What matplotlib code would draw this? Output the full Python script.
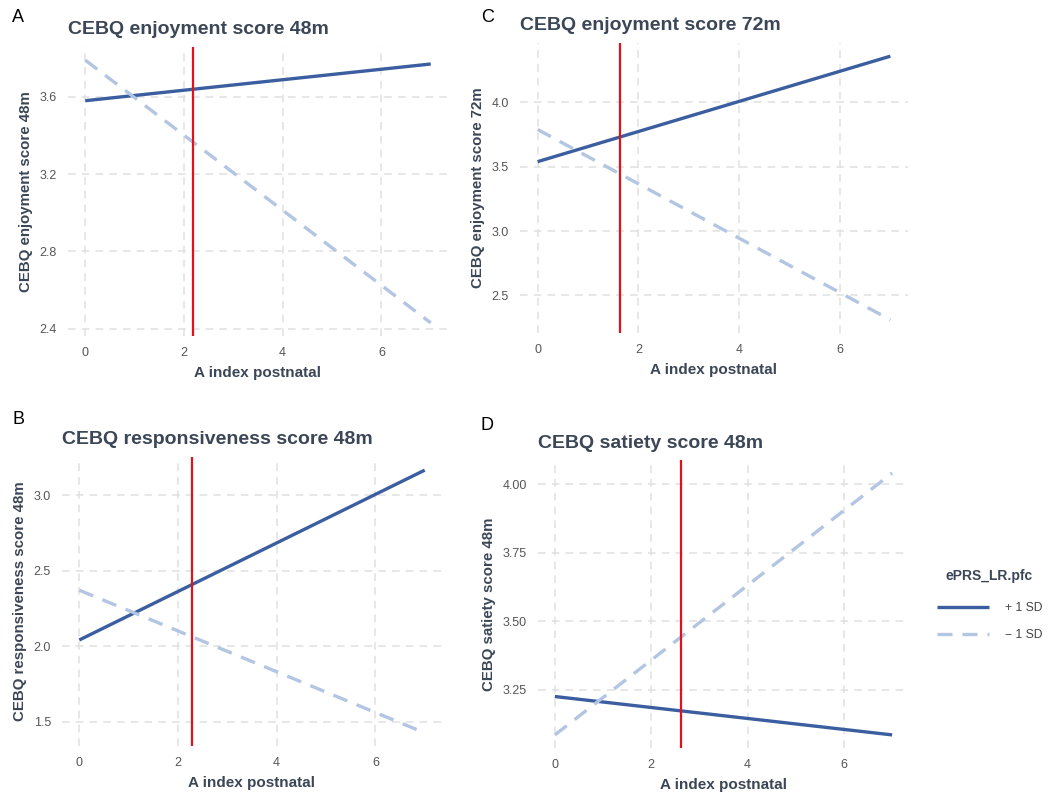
import matplotlib.pyplot as plt
import numpy as np

plt.rcParams['font.family'] = ['Liberation Sans', 'DejaVu Sans']

# A index postnatal, endpoints of the fitted lines
x_vals = [0, 7]

titles = ['CEBQ enjoyment score 48m', 'CEBQ enjoyment score 72m',
          'CEBQ responsiveness score 48m', 'CEBQ satiety score 48m']
letters = ['A', 'C', 'B', 'D']

plus_sd = [[3.58, 3.77], [3.54, 4.36], [2.04, 3.165], [3.225, 3.085]]
minus_sd = [[3.79, 2.43], [3.79, 2.31], [2.37, 1.425], [3.085, 4.04]]
red_x = [2.18, 1.64, 2.29, 2.61]
y_ticks = [[2.4, 2.8, 3.2, 3.6], [2.5, 3.0, 3.5, 4.0],
           [1.5, 2.0, 2.5, 3.0], [3.25, 3.50, 3.75, 4.00]]
y_fmt = ['%.1f', '%.1f', '%.1f', '%.2f']
x_ticks = [0, 2, 4, 6]

# panel boxes in pixels: left, top, right, bottom
boxes = [(68, 47, 448, 336), (520, 43, 908, 333),
         (62, 457, 442, 746), (538, 460, 909, 748)]
letter_pos = [(12, 18), (481, 18), (12, 420), (481, 425)]

W, H = 1048, 799
fig = plt.figure(figsize=(W / 100, H / 100), dpi=100)

solid_col = '#3b5ea1'
dash_col = '#b2c5e2'
text_col = '#3b4656'

for i in range(4):
    l, t, r, b = boxes[i]
    ax = fig.add_axes([l / W, 1 - b / H, (r - l) / W, (b - t) / H])
    ln1, = ax.plot(x_vals, plus_sd[i], color=solid_col, lw=2.4,
                   solid_capstyle='butt', label='+ 1 SD')
    ln2, = ax.plot(x_vals, minus_sd[i], color=dash_col, lw=2.4,
                   dashes=(4.5, 3), label='\u2212 1 SD')
    ax.axvline(red_x[i], color='#e2121b', lw=1.6)
    ax.set_xticks(x_ticks)
    ax.set_yticks(y_ticks[i])
    ax.set_yticklabels([y_fmt[i] % v for v in y_ticks[i]])
    ax.margins(x=0.05, y=0.05)
    ax.grid(True, color='#e0e0e0', lw=1.1, ls=(0, (5, 4)))
    ax.set_axisbelow(True)
    for s in ax.spines.values():
        s.set_visible(False)
    ax.tick_params(length=0, labelsize=9, labelcolor='#555555', pad=8)
    ax.set_xlabel('A index postnatal', fontsize=11, fontweight='bold',
                  color=text_col, labelpad=5)
    ax.set_ylabel(titles[i], fontsize=10.8,
                  fontweight='bold', color=text_col, labelpad=5)
    ax.set_title(titles[i], loc='left', fontsize=14, fontweight='bold',
                 color=text_col, pad=9)
    fig.text(letter_pos[i][0] / W, 1 - letter_pos[i][1] / H, letters[i],
             fontsize=13, va='center', ha='left')

leg = fig.legend(handles=[ln1, ln2], title='ePRS_LR.pfc',
                 loc='center left', bbox_to_anchor=(926 / W, 1 - 605 / H),
                 frameon=False, fontsize=8.7, handlelength=4.3,
                 labelspacing=1.2, handletextpad=1.3)
leg.get_title().set_fontweight('bold')
leg.get_title().set_fontsize(10)
leg.get_title().set_color(text_col)
leg._legend_box.sep = 14
for txt in leg.get_texts():
    txt.set_color('#444444')

fig.savefig('out.png', dpi=100)
